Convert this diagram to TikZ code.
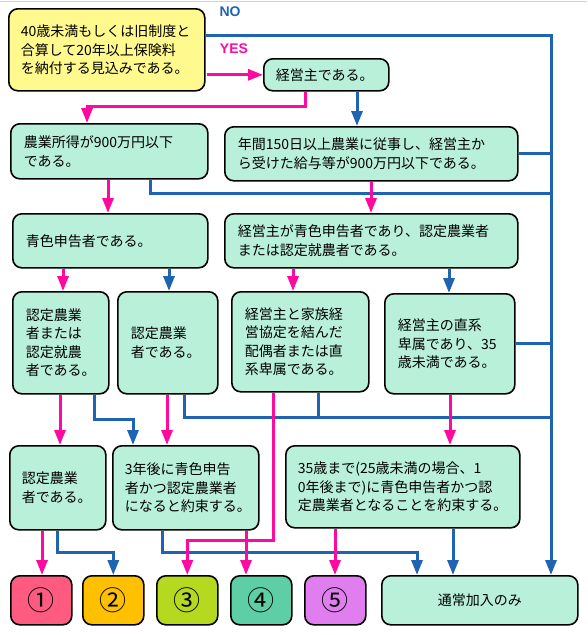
\documentclass[tikz,border=0pt]{standalone}
\usepackage{fontspec}
\setmainfont{Noto Sans CJK JP}
\newfontfamily\labelfont{Liberation Sans}
\usetikzlibrary{arrows.meta}

\definecolor{mint}{HTML}{B9F0DA}
\definecolor{lemon}{HTML}{FFF98E}
\definecolor{noblue}{HTML}{1F64B2}
\definecolor{yespink}{HTML}{FF0AA0}
\definecolor{kindA}{HTML}{FF5A80}
\definecolor{kindB}{HTML}{FFC000}
\definecolor{kindC}{HTML}{B4D91E}
\definecolor{kindD}{HTML}{5DCEA5}
\definecolor{kindE}{HTML}{E07EF0}

\begin{document}
\begin{tikzpicture}[x=1pt, y=-1pt, >={Triangle[length=15pt,width=11pt]},
    box/.style={draw, line width=1.6pt, rounded corners=9pt, fill=mint, anchor=north west,
        inner sep=0pt, align=left, font=\fontsize{14}{18.5}\selectfont},
    endbox/.style={box, minimum width=61pt, minimum height=49pt, align=center,
        font=\fontsize{27}{29}\selectfont},
    yes/.style={draw=yespink, line width=3pt},
    no/.style={draw=noblue, line width=3pt}]

    \useasboundingbox (0,0) rectangle (587,635);
    \draw[gray!35, line width=1pt] (0,1) -- (587,1);

    % ==========================================
    % Question boxes
    % ==========================================
    \node[box, fill=lemon, minimum width=196pt, minimum height=82pt, text width=172pt] (q0) at (8,8)
        {40歳未満もしくは旧制度と\\合算して20年以上保険料\\を納付する見込みである。};
    \node[box, minimum width=125pt, minimum height=32pt, text width=101pt] (b1) at (263,58) {経営主である。};

    \node[box, minimum width=197pt, minimum height=55pt, text width=171pt] (b2) at (10,123)
        {農業所得が900万円以下\\である。};
    \node[box, minimum width=293pt, minimum height=54pt, text width=267pt] (b3) at (224,126)
        {年間150日以上農業に従事し、経営主か\\ら受けた給与等が900万円以下である。};

    \node[box, minimum width=195pt, minimum height=54pt, text width=169pt] (b4) at (12,213) {青色申告者である。};
    \node[box, minimum width=293pt, minimum height=54pt, text width=267pt] (b5) at (224,213)
        {経営主が青色申告者であり、認定農業者\\または認定就農者である。};

    \node[box, minimum width=96pt, minimum height=102pt, text width=70pt] (b6) at (12,291)
        {認定農業\\者または\\認定就農\\者である。};
    \node[box, minimum width=100pt, minimum height=102pt, text width=74pt] (b7) at (117,291)
        {認定農業\\者である。};
    \node[box, minimum width=137pt, minimum height=100pt, text width=111pt] (b8) at (231,291)
        {経営主と家族経\\営協定を結んだ\\配偶者または直\\系卑属である。};
    \node[box, minimum width=130pt, minimum height=100pt, text width=104pt] (b9) at (384,293)
        {経営主の直系\\卑属であり、35\\歳未満である。};

    \node[box, minimum width=96pt, minimum height=84pt, text width=72pt] (b10) at (9,445)
        {認定農業\\者である。};
    \node[box, minimum width=146pt, minimum height=84pt, text width=122pt] (b11) at (112,445)
        {3年後に青色申告\\者かつ認定農業者\\になると約束する。};
    \node[box, minimum width=234pt, minimum height=82pt, text width=210pt] (b12) at (285,445)
        {35歳まで(25歳未満の場合、1\\0年後まで)に青色申告者かつ認\\定農業者となることを約束する。};

    % ==========================================
    % Results
    % ==========================================
    \node[endbox, fill=kindA] (r1) at (10,575) {①};
    \node[endbox, fill=kindB] (r2) at (82,575) {②};
    \node[endbox, fill=kindC] (r3) at (156,575) {③};
    \node[endbox, fill=kindD] (r4) at (230,575) {④};
    \node[endbox, fill=kindE] (r5) at (304,575) {⑤};
    \node[box, minimum width=196pt, minimum height=49pt, align=center] (r6) at (381,575) {通常加入のみ};

    % ==========================================
    % NO connectors (blue)
    % ==========================================
    \coordinate (noright) at (551,35);
    \node[noblue, font=\labelfont\bfseries\fontsize{14}{16}\selectfont] (nolabel) at (230,12) {NO};
    \draw[no, ->] (q0.east |- noright) -| (r6.north -| noright);
    \draw[no, ->] (b1.south -| 357,0) -- (b3.north -| 357,0);
    \draw[no] (b3.east) -- (b3.east -| noright);
    \draw[no] (b2.south -| 150,0) |- (noright |- 0,193);
    \draw[no, ->] (b4.south -| 169,0) -- (b7.north -| 169,0);
    \draw[no, ->] (b5.south -| 449,0) -- (b9.north -| 449,0);
    \draw[no] (b9.east) -- (b9.east -| noright);
    \draw[no, ->] (b6.south -| 94,0) -- (94,419) -| (b11.north -| 133,0);
    \draw[no] (b7.south -| 184,0) |- (noright |- 0,417);
    \draw[no] (b8.south -| 318,0) -- (318,417);
    \draw[no, ->] (b10.south -| 57,0) -- (57,552) -| (r2.north);
    \draw[no, ->] (b11.south -| 162,0) -- (162,552) -| (r6.north -| 417,0);
    \draw[no, ->] (b12.south -| 453,0) -- (r6.north -| 453,0);

    % ==========================================
    % YES connectors (pink)
    % ==========================================
    \node[yespink, font=\labelfont\bfseries\fontsize{14}{16}\selectfont] (yeslabel) at (234,49) {YES};
    \draw[yes, ->] (207,0 |- b1.west) -- (b1.west);
    \draw[yes, ->] (b1.south -| 305,0) -- (305,106) -| (b2.north -| 87,0);
    \draw[yes, ->] (b2.south -| 108,0) -- (b4.north -| 108,0);
    \draw[yes, ->] (b3.south -| 371,0) -- (b5.north -| 371,0);
    \draw[yes, ->] (b4.south -| 63,0) -- (b6.north -| 63,0);
    \draw[yes, ->] (b5.south -| 293,0) -- (b8.north -| 293,0);
    \draw[yes, ->] (b6.south -| 60,0) -- (b10.north -| 60,0);
    \draw[yes, ->] (b7.south -| 167,0) -- (b11.north -| 167,0);
    \draw[yes, ->] (b9.south -| 450,0) -- (b12.north -| 450,0);
    \draw[yes, ->] (b8.south -| 273,0) -- (273,540) -| (r3.north);
    \draw[yes, ->] (b10.south -| 42,0) -- (r1.north -| 42,0);
    \draw[yes, ->] (b11.south -| 246,0) -- (r4.north -| 246,0);
    \draw[yes, ->] (b12.south -| 335,0) -- (r5.north -| 335,0);

\end{tikzpicture}
\end{document}
